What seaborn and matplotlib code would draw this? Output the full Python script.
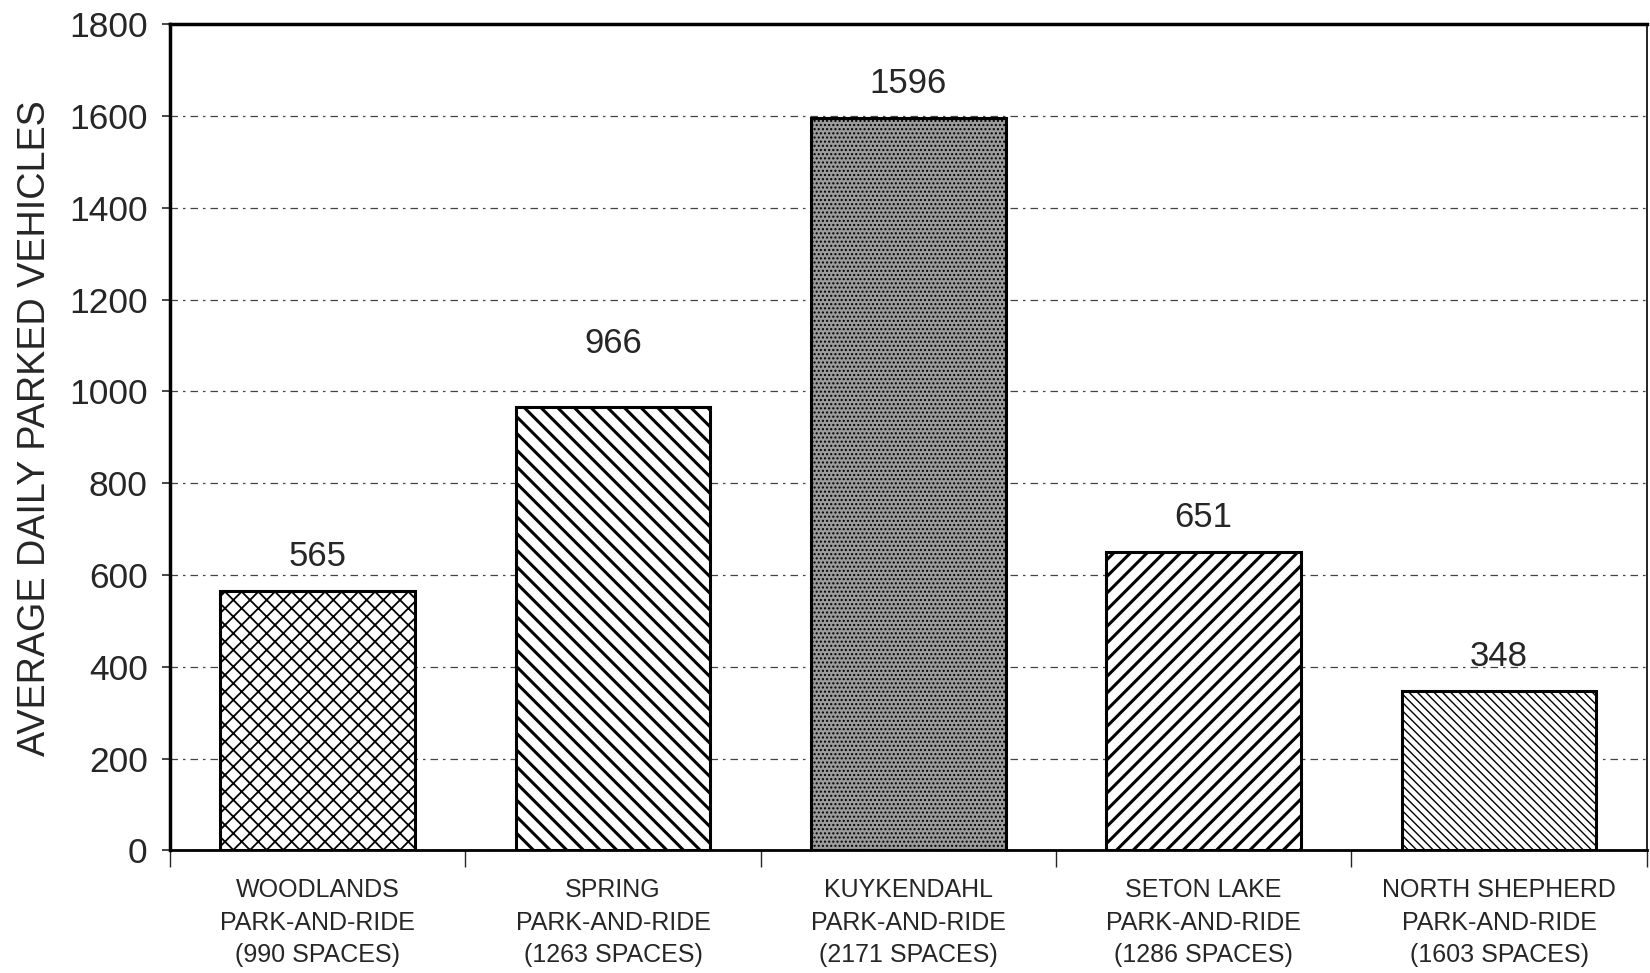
import matplotlib
matplotlib.use('Agg')
import matplotlib.pyplot as plt
import seaborn as sns
import pandas as pd

sites = ['WOODLANDS', 'SPRING', 'KUYKENDAHL', 'SETON LAKE', 'NORTH SHEPHERD']
spaces = [990, 1263, 2171, 1286, 1603]
parked = [565, 966, 1596, 651, 348]
yticks = [0, 200, 400, 600, 800, 1000, 1200, 1400, 1600, 1800]

labels = [f'{s}\nPARK-AND-RIDE\n({n} SPACES)' for s, n in zip(sites, spaces)]
df = pd.DataFrame({'site': labels, 'parked': parked})

sns.set_style('white')
plt.rcParams['font.family'] = ['Liberation Sans', 'DejaVu Sans']
plt.rcParams['hatch.linewidth'] = 2.0

fig = plt.figure(figsize=(16.5, 9.73), dpi=100)
ax = fig.add_axes([0.103, 0.126, 0.895, 0.849])

sns.barplot(data=df, x='site', y='parked', color='white', edgecolor='black',
            linewidth=2.2, width=0.66, ax=ax, zorder=3)

hatches = ['xx', '\\\\', '....', '//', '\\\\\\\\']
faces = ['white', 'white', '#9c9c9c', 'white', 'white']
hlw = [1.3, 2.2, 1.0, 2.2, 1.0]
for bar, h, fc, lw in zip(ax.patches, hatches, faces, hlw):
    bar.set_hatch(h)
    bar.set_facecolor(fc)
    if hasattr(bar, 'set_hatch_linewidth'):
        bar.set_hatch_linewidth(lw)

# value labels, Spring's sits higher in the original
pads = [13, 34, 13, 13, 13]
for bar, v, p in zip(ax.patches, parked, pads):
    ax.annotate(str(v), (bar.get_x() + bar.get_width() / 2, bar.get_height()),
                xytext=(0, p), textcoords='offset points',
                ha='center', va='bottom', fontsize=25)

ax.set_ylim(0, 1800)
ax.set_xlim(-0.5, 4.5)
ax.set_yticks(yticks)
ax.yaxis.grid(True, color='#444444', linewidth=0.9, linestyle=(0, (6, 4, 2, 4)))
ax.set_axisbelow(True)

ax.tick_params(axis='y', labelsize=25.5, length=6, width=1.2, pad=10, direction='out', left=True)
ax.tick_params(axis='x', which='major', labelsize=18, length=0, pad=20)
for t in ax.get_xticklabels():
    t.set_linespacing(1.45)
ax.set_xticks([-0.5, 0.5, 1.5, 2.5, 3.5, 4.5], minor=True)
ax.tick_params(axis='x', which='minor', length=12, width=1.0, direction='out', bottom=True)

ax.set_xlabel('')
ax.set_ylabel('AVERAGE DAILY PARKED VEHICLES', fontsize=27.2)
ax.yaxis.set_label_coords(-0.079, 0.511)

for side in ['left', 'top']:
    ax.spines[side].set_linewidth(2.5)
ax.spines['bottom'].set_linewidth(2.0)
ax.spines['right'].set_linewidth(1.2)
for s in ax.spines.values():
    s.set_color('black')

fig.savefig('out.png', dpi=100)
